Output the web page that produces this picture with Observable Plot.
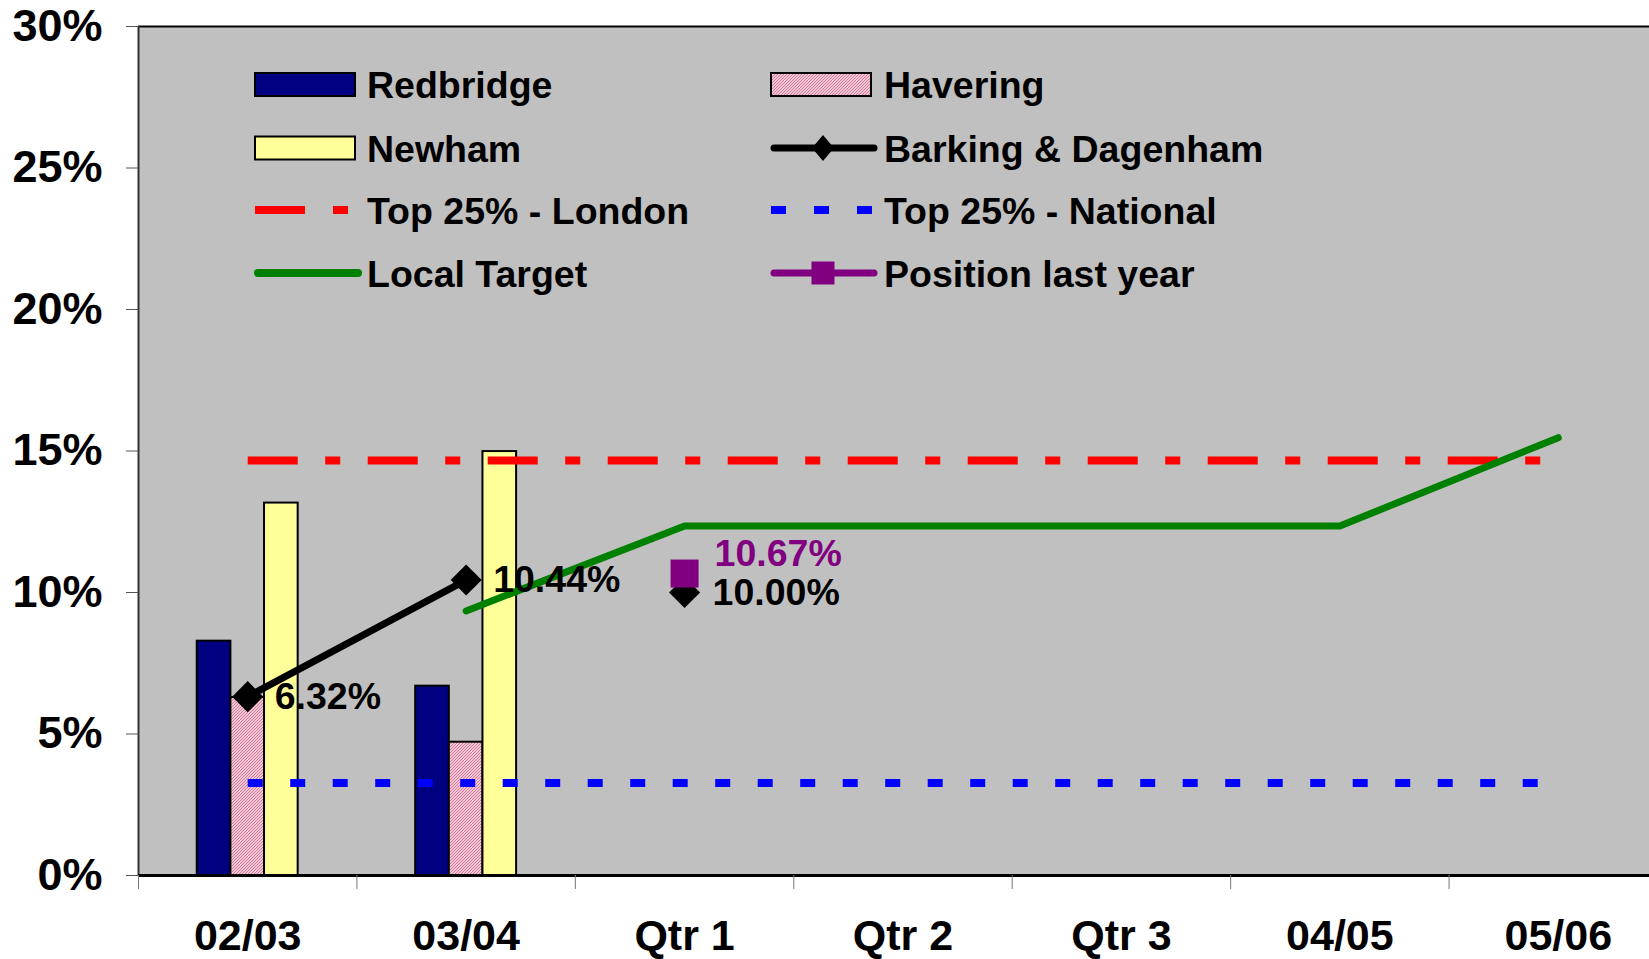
<!DOCTYPE html>
<html><head><meta charset="utf-8">
<script src="https://cdn.jsdelivr.net/npm/d3@7"></script>
<script src="https://cdn.jsdelivr.net/npm/@observablehq/plot@0.6"></script>
<style>
html,body{margin:0;padding:0;background:#fff;overflow:hidden}
#wrap{position:relative;width:1649px;height:959px;overflow:hidden}
#wrap svg{display:block}
</style></head><body><div id="wrap"></div>
<script>
// ---- data (percent) ----
const categories = ["02/03", "03/04", "Qtr 1", "Qtr 2", "Qtr 3", "04/05", "05/06"];
const redbridge = [8.28, 6.69, null, null, null, null, null];
const havering = [6.29, 4.71, null, null, null, null, null];
const newham = [13.16, 14.98, null, null, null, null, null];
const barkingAnnual = [6.32, 10.44, null, null, null, null, null];
const barkingQuarter = [null, null, 10.00, null, null, null, null];
const positionLastYear = [null, null, 10.67, null, null, null, null];
const top25London = [14.66, 14.66, 14.66, 14.66, 14.66, 14.66, 14.66];
const top25National = [3.27, 3.27, 3.27, 3.27, 3.27, 3.27, 3.27];
const localTarget = [null, 9.35, 12.35, 12.35, 12.35, 12.35, 15.47];
const yTicks = [0, 5, 10, 15, 20, 25, 30];

const FONT = "'Liberation Sans', Arial, Helvetica, sans-serif";
const W = 1667, H = 959;

const pts = arr => arr.map((v, i) => ({x: i + 0.5, y: v, label: v == null ? "" : v.toFixed(2) + "%"})).filter(d => d.y != null);

const barW = 0.154, groupOff = -0.231;
const barData = (arr, k) => arr.map((v, i) => v == null ? null : ({x1: i + 0.5 + groupOff + k * barW, x2: i + 0.5 + groupOff + (k + 1) * barW, y: v})).filter(d => d);

const chart = Plot.plot({
  width: W, height: H,
  marginTop: 26, marginLeft: 138, marginRight: 0, marginBottom: 84,
  style: {fontFamily: FONT, maxWidth: "none", background: "#fff"},
  x: {domain: [0, categories.length], axis: null},
  y: {domain: [0, 30], axis: null},
  marks: [
    Plot.frame({fill: "#C0C0C0", stroke: "none"}),
    Plot.rectY(barData(redbridge, 0), {x1: "x1", x2: "x2", y1: 0, y2: "y", fill: "#000080", stroke: "#000", strokeWidth: 2}),
    Plot.rectY(barData(havering, 1), {x1: "x1", x2: "x2", y1: 0, y2: "y", fill: "url(#havHatch)", stroke: "#000", strokeWidth: 2}),
    Plot.rectY(barData(newham, 2), {x1: "x1", x2: "x2", y1: 0, y2: "y", fill: "#FFFF99", stroke: "#000", strokeWidth: 2}),
    Plot.ruleY([30], {stroke: "#000", strokeWidth: 2}),
    Plot.ruleX([0], {stroke: "#333", strokeWidth: 2}),
    Plot.ruleY([0], {stroke: "#000", strokeWidth: 3}),
    Plot.axisY(yTicks, {tickSize: 12, tickPadding: 24, tickFormat: d => d + "%", fontSize: 45, fontWeight: "bold", label: null, stroke: "#555"}),
    Plot.axisX(d3.range(0, categories.length + 1), {tickSize: 14, tickFormat: () => "", label: null, stroke: "#777"}),
    Plot.axisX(categories.map((c, i) => i + 0.5), {tickSize: 0, tickPadding: 44, tickFormat: d => categories[Math.floor(d)], fontSize: 43, fontWeight: "bold", label: null}),
    Plot.line(pts(top25National), {x: "x", y: "y", stroke: "#0000FF", strokeWidth: 8, strokeDasharray: "15,27.5", strokeLinecap: "butt"}),
    Plot.line(pts(top25London), {x: "x", y: "y", stroke: "#FF0000", strokeWidth: 8, strokeDasharray: "50,27.5,15,27.5", strokeLinecap: "butt"}),
    Plot.line(pts(localTarget), {x: "x", y: "y", stroke: "#008000", strokeWidth: 7, strokeLinecap: "round"}),
    Plot.line(pts(barkingAnnual), {x: "x", y: "y", stroke: "#000", strokeWidth: 7}),
    Plot.dot(pts(barkingAnnual), {x: "x", y: "y", symbol: "diamond2", r: 14, fill: "#000"}),
    Plot.dot(pts(barkingQuarter), {x: "x", y: "y", symbol: "diamond2", r: 14, fill: "#000"}),
    Plot.dot(pts(positionLastYear), {x: "x", y: "y", symbol: "square", r: 15.8, fill: "#800080"}),
    Plot.text(pts(barkingAnnual), {x: "x", y: "y", text: "label", textAnchor: "start", dx: 27, fontSize: 37.5, fontWeight: "bold", fill: "#000"}),
    Plot.text(pts(barkingQuarter), {x: "x", y: "y", text: "label", textAnchor: "start", dx: 28, fontSize: 37.5, fontWeight: "bold", fill: "#000"}),
    Plot.text(pts(positionLastYear), {x: "x", y: "y", text: "label", textAnchor: "start", dx: 30, dy: -20, fontSize: 37.5, fontWeight: "bold", fill: "#800080"})
  ]
});

const svg = d3.select(chart);
const defs = svg.insert("defs", ":first-child");
const pat = defs.append("pattern").attr("id", "havHatch").attr("patternUnits", "userSpaceOnUse").attr("width", 3).attr("height", 3);
pat.append("rect").attr("width", 3).attr("height", 3).attr("fill", "#F4C4D4");
pat.append("path").attr("d", "M-1,1 l2,-2 M0,3 l3,-3 M2,4 l2,-2").attr("stroke", "#B05078").attr("stroke-width", 0.6);

// ---- legend (inside plot area) ----
const legendItems = [
  {label: "Redbridge", kind: "bar", fill: "#000080", col: 0, row: 0},
  {label: "Newham", kind: "bar", fill: "#FFFF99", col: 0, row: 1},
  {label: "Top 25% - London", kind: "line", stroke: "#FF0000", dash: "50,28,15,100", width: 8, cap: "butt", col: 0, row: 2},
  {label: "Local Target", kind: "line", stroke: "#008000", width: 8, cap: "round", col: 0, row: 3},
  {label: "Havering", kind: "bar", fill: "url(#havHatch)", col: 1, row: 0},
  {label: "Barking & Dagenham", kind: "line", stroke: "#000", width: 7, cap: "round", marker: "diamond", mfill: "#000", col: 1, row: 1},
  {label: "Top 25% - National", kind: "line", stroke: "#0000FF", dash: "15,28", width: 8, cap: "butt", col: 1, row: 2},
  {label: "Position last year", kind: "line", stroke: "#800080", width: 7, cap: "round", marker: "square", mfill: "#800080", col: 1, row: 3}
];
const colX = [255, 771], colText = [367, 884], rowY = [84.5, 148, 210, 273];
const lg = svg.append("g").attr("font-family", FONT).attr("font-size", 37.5).attr("font-weight", "bold").attr("text-anchor", "start");
legendItems.forEach(it => {
  const x0 = colX[it.col], y = rowY[it.row];
  const g = lg.append("g");
  if (it.kind === "bar") {
    g.append("rect").attr("x", x0).attr("y", y - 11.5).attr("width", 100).attr("height", 23)
      .attr("fill", it.fill).attr("stroke", "#000").attr("stroke-width", 2);
  } else {
    const x1 = x0 + (it.cap === "round" ? 3 : 0), x2 = x0 + 103;
    g.append("line").attr("x1", x1).attr("x2", x2).attr("y1", y).attr("y2", y)
      .attr("stroke", it.stroke).attr("stroke-width", it.width).attr("stroke-linecap", it.cap)
      .attr("stroke-dasharray", it.dash || null);
    const cx = x0 + 52;
    if (it.marker === "diamond") {
      g.append("path").attr("d", `M${cx},${y - 13}L${cx + 11},${y}L${cx},${y + 13}L${cx - 11},${y}Z`).attr("fill", it.mfill);
    } else if (it.marker === "square") {
      g.append("rect").attr("x", cx - 11.5).attr("y", y - 11.5).attr("width", 23).attr("height", 23).attr("fill", it.mfill);
    }
  }
  g.append("text").attr("x", colText[it.col]).attr("y", y).attr("dy", "0.36em").attr("fill", "#000").attr("text-anchor", "start").text(it.label);
});

document.getElementById("wrap").appendChild(chart);
</script>
</body></html>
